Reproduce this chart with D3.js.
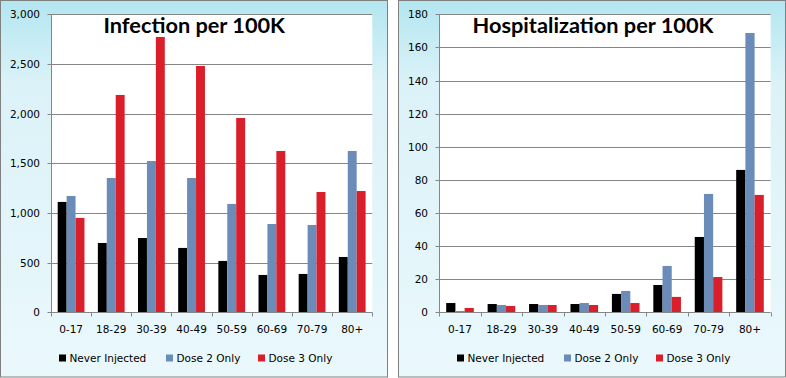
<!DOCTYPE html>
<html><head><meta charset="utf-8">
<script src="https://cdn.jsdelivr.net/npm/d3@7"></script>
<style>
html,body{margin:0;padding:0;background:#fff;}
svg{display:block;}
</style></head>
<body>
<svg id="chart" width="786" height="378"></svg>
<script>
const categories = ["0-17","18-29","30-39","40-49","50-59","60-69","70-79","80+"];
const seriesNames = ["Never Injected","Dose 2 Only","Dose 3 Only"];
const seriesColors = ["#000000","#6b8bb8","#da1f2b"];

const infectionNever = [1111, 698, 748, 648, 517, 376, 386, 557];
const infectionDose2 = [1171, 1352, 1523, 1352, 1091, 889, 879, 1624];
const infectionDose3 = [950, 2188, 2772, 2480, 1956, 1624, 1211, 1221];
const infectionTicks = [0, 500, 1000, 1500, 2000, 2500, 3000];

const hospNever = [5.6, 5.0, 5.0, 5.0, 11.1, 16.5, 45.5, 86.0];
const hospDose2 = [0.8, 4.4, 4.4, 5.6, 12.9, 28.0, 71.5, 168.7];
const hospDose3 = [2.6, 3.8, 4.4, 4.4, 5.6, 9.3, 21.3, 70.9];
const hospTicks = [0, 20, 40, 60, 80, 100, 120, 140, 160, 180];

const svg = d3.select("#chart");
const defs = svg.append("defs");
const grad = defs.append("linearGradient").attr("id","bg").attr("x1",0).attr("y1",0).attr("x2",0).attr("y2",1);
grad.append("stop").attr("offset","0%").attr("stop-color","#b3e6f0");
grad.append("stop").attr("offset","22%").attr("stop-color","#dbf2f8");
grad.append("stop").attr("offset","100%").attr("stop-color","#eaf8fc");

const FONT = "'DejaVu Sans', Verdana, sans-serif";
const gridColor = "#868686";

function drawPanel(cfg) {
  const g = svg.append("g");
  // panel background
  g.append("rect").attr("x", cfg.px + 0.5).attr("y", 0.5)
    .attr("width", cfg.pw - 1).attr("height", 377 - 0.5)
    .attr("fill", "url(#bg)").attr("stroke", "#808080").attr("stroke-width", 1);

  const y = d3.scaleLinear().domain([0, d3.max(cfg.ticks)]).range([cfg.bottom, cfg.top]);
  const x0 = d3.scaleBand().domain(categories).range([cfg.left, cfg.right]).padding(0);
  const x1 = d3.scaleBand().domain(seriesNames).range([0, x0.bandwidth()]).paddingInner(0).paddingOuter(0.75);

  // plot area
  g.append("rect").attr("x", cfg.left).attr("y", cfg.top)
    .attr("width", cfg.right - cfg.left).attr("height", cfg.bottom - cfg.top).attr("fill", "#fff");

  // gridlines
  g.append("g").selectAll("line").data(cfg.ticks.filter(t => t > 0)).join("line")
    .attr("x1", cfg.left).attr("x2", cfg.right)
    .attr("y1", d => Math.round(y(d)) + 0.5).attr("y2", d => Math.round(y(d)) + 0.5)
    .attr("stroke", gridColor).attr("stroke-width", 1);

  // bars
  const data = seriesNames.map((s, i) => ({name: s, color: seriesColors[i], values: cfg.series[i]}));
  g.append("g").selectAll("g").data(data).join("g").attr("fill", d => d.color)
    .selectAll("rect").data(d => d.values.map((v, j) => ({v, cat: categories[j], s: d.name}))).join("rect")
    .attr("x", d => x0(d.cat) + x1(d.s))
    .attr("width", x1.bandwidth())
    .attr("y", d => y(d.v))
    .attr("height", d => y(0) - y(d.v));

  // y axis
  const yAxis = d3.axisLeft(y).tickValues(cfg.ticks).tickSize(4).tickPadding(7.5)
    .tickFormat(cfg.fmt);
  const ya = g.append("g").attr("transform", `translate(${Math.round(cfg.left) + 0.5},0)`).call(yAxis);
  ya.select(".domain").attr("stroke", gridColor).attr("d", `M0,${cfg.top}V${cfg.bottom}`);
  ya.selectAll(".tick line").attr("stroke", gridColor);
  ya.selectAll(".tick").attr("transform", d => `translate(0,${Math.round(y(d)) + 0.5})`);
  ya.selectAll("text").attr("font-family", FONT).attr("font-size", "10.5px").attr("fill", "#000");

  // x axis
  const xb = g.append("g");
  const by = Math.round(cfg.bottom) + 0.5;
  xb.append("line").attr("x1", cfg.left).attr("x2", cfg.right).attr("y1", by).attr("y2", by)
    .attr("stroke", gridColor);
  const bounds = categories.map(c => x0(c)).concat([cfg.right]);
  xb.selectAll("line.tk").data(bounds).join("line").attr("class", "tk")
    .attr("x1", d => Math.round(d) + 0.5).attr("x2", d => Math.round(d) + 0.5)
    .attr("y1", by).attr("y2", by + 4).attr("stroke", gridColor);
  xb.selectAll("text").data(categories).join("text")
    .attr("x", d => x0(d) + x0.bandwidth() / 2).attr("y", cfg.bottom + 21)
    .attr("text-anchor", "middle").attr("font-family", FONT).attr("font-size", "10.5px")
    .text(d => d);

  // title
  g.append("text").attr("x", cfg.titleX).attr("y", 33)
    .attr("font-family", "Lato, 'Open Sans', sans-serif").attr("font-weight", "bold")
    .attr("font-size", "21px").attr("fill", "#000")
    .attr("textLength", cfg.titleW).attr("lengthAdjust", "spacingAndGlyphs")
    .text(cfg.title);

  // legend
  const lg = g.append("g");
  seriesNames.forEach((s, i) => {
    lg.append("rect").attr("x", cfg.legendX[i]).attr("y", 354.5).attr("width", 7).attr("height", 7)
      .attr("fill", seriesColors[i]);
    lg.append("text").attr("x", cfg.legendX[i] + 10.5).attr("y", 362)
      .attr("font-family", FONT).attr("font-size", "10.5px").attr("fill", "#000").text(s);
  });
}

drawPanel({
  px: 0, pw: 388, left: 51, right: 372.3, top: 14.3, bottom: 312.3,
  ticks: infectionTicks, fmt: d3.format(","),
  series: [infectionNever, infectionDose2, infectionDose3],
  title: "Infection per 100K", titleX: 103.5, titleW: 181.5,
  legendX: [59, 166, 258]
});
drawPanel({
  px: 398, pw: 388, left: 439.3, right: 770.7, top: 14.3, bottom: 312.3,
  ticks: hospTicks, fmt: d3.format("d"),
  series: [hospNever, hospDose2, hospDose3],
  title: "Hospitalization per 100K", titleX: 472.5, titleW: 241,
  legendX: [457, 564, 656]
});
</script>
</body></html>
